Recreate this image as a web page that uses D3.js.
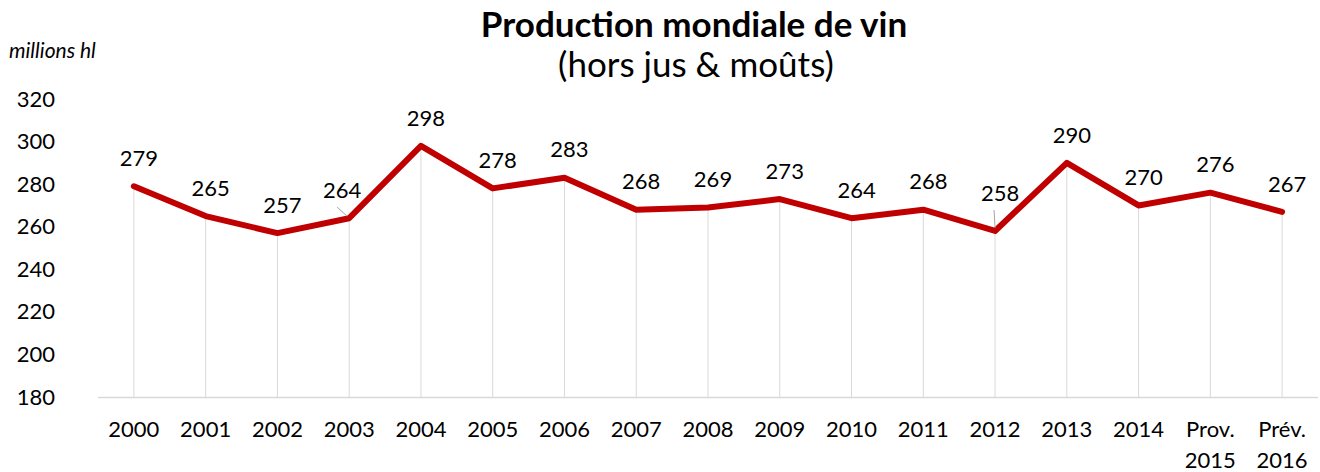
<!DOCTYPE html>
<html><head><meta charset="utf-8">
<script src="https://cdn.jsdelivr.net/npm/d3@7"></script>
<style>body{margin:0;background:#fff;} svg{display:block;font-family:Lato,"Open Sans",sans-serif;}</style>
</head><body><div id="chart"></div>
<script>
const categories = ["2000","2001","2002","2003","2004","2005","2006","2007","2008","2009","2010","2011","2012","2013","2014","Prov.\n2015","Prév.\n2016"];
const production = [279,265,257,264,298,278,283,268,269,273,264,268,258,290,270,276,267];
const yTicks = [180,200,220,240,260,280,300,320];
const titleText = "Production mondiale de vin";
const subtitleText = "(hors jus & moûts)";
const unitText = "millions hl";

// label adjustments (styling): manual offsets for some data labels
const labelOffsets = {3:{dx:-12,dy:0,leader:true}, 12:{dx:0,dy:-10,leader:true}};

const W=1320,H=472;
const svg=d3.select("#chart").append("svg").attr("width",W).attr("height",H);
const x=d3.scaleBand().domain(categories).range([98,1318]).padding(0);
const cx=d=>x(d)+x.bandwidth()/2;
const y=d3.scaleLinear().domain([180,320]).range([397,99]);

svg.append("text").attr("x",694).attr("y",37).attr("text-anchor","middle")
  .attr("font-weight","bold").attr("font-size",35).attr("fill","#000").text(titleText);
svg.append("text").attr("x",696).attr("y",77).attr("text-anchor","middle")
  .attr("font-size",35).attr("fill","#000").text(subtitleText);
svg.append("text").attr("x",9).attr("y",58).attr("font-style","italic")
  .attr("font-size",21).attr("fill","#000").text(unitText);

// y axis labels
const yAxis=d3.axisLeft(y).tickValues(yTicks).tickSize(0).tickPadding(0);
const gy=svg.append("g").attr("transform","translate(55,0)").call(yAxis);
gy.select(".domain").remove();
gy.selectAll("text").attr("font-size",22).attr("font-family","Lato,'Open Sans',sans-serif").attr("fill","#000");

// drop lines
svg.append("g").selectAll("line").data(production).join("line")
  .attr("x1",(d,i)=>cx(categories[i])).attr("x2",(d,i)=>cx(categories[i]))
  .attr("y1",d=>y(d)).attr("y2",y(180)).attr("stroke","#d9d9d9").attr("stroke-width",1);

// baseline
svg.append("line").attr("x1",98).attr("x2",1318).attr("y1",y(180)+0.5).attr("y2",y(180)+0.5)
  .attr("stroke","#d9d9d9").attr("stroke-width",1.5);

// x labels
const xl=svg.append("g");
categories.forEach((c,i)=>{
  const lines=c.split("\n");
  const t=xl.append("text").attr("x",cx(c)).attr("y",437).attr("text-anchor","middle")
    .attr("font-size",22).attr("fill","#000");
  lines.forEach((l,j)=>t.append("tspan").attr("x",cx(c)).attr("dy",j?31:0).text(l));
});

// line
const line=d3.line().x((d,i)=>cx(categories[i])).y(d=>y(d));
svg.append("path").datum(production).attr("d",line).attr("fill","none")
  .attr("stroke","#C00000").attr("stroke-width",6).attr("stroke-linejoin","round").attr("stroke-linecap","round");

// data labels
const lg=svg.append("g");
production.forEach((v,i)=>{
  const o=labelOffsets[i]||{dx:0,dy:0};
  const px=cx(categories[i]), py=y(v);
  const lx=px+5+o.dx, ly=py-28+o.dy;
  if(o.leader){
    if(i===3) lg.append("line").attr("x1",lx-5).attr("y1",ly+17).attr("x2",px-2).attr("y2",py-2).attr("stroke","#a6a6a6").attr("stroke-width",1);
    else lg.append("line").attr("x1",px-1).attr("y1",ly+17).attr("x2",px).attr("y2",py-3).attr("stroke","#a6a6a6").attr("stroke-width",1);
  }
  lg.append("text").attr("x",lx).attr("y",ly).attr("dy","0.35em").attr("text-anchor","middle")
    .attr("font-size",22).attr("fill","#000").text(v);
});
</script></body></html>
